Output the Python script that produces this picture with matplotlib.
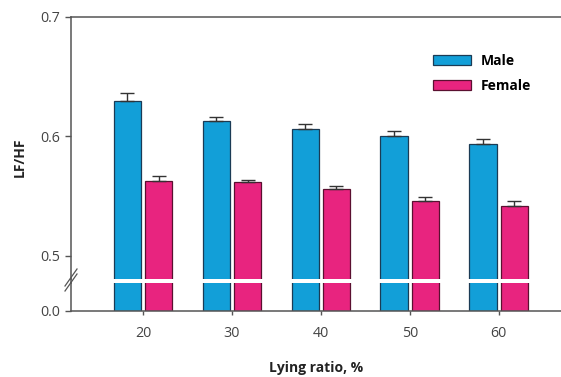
import matplotlib.pyplot as plt
import numpy as np

plt.rcParams['font.family'] = ['Open Sans', 'DejaVu Sans']

# Lying ratio (%) and LF/HF means with upper error
ratio = [20, 30, 40, 50, 60]
male = [0.630, 0.613, 0.606, 0.600, 0.5935]
male_err = [0.0065, 0.0035, 0.004, 0.0042, 0.0044]
female = [0.5628, 0.5615, 0.5561, 0.5461, 0.5416]
female_err = [0.0039, 0.0022, 0.0023, 0.0034, 0.0044]

blue = '#129fd8'
pink = '#e8247f'
grey = '#555555'

fig = plt.figure(figsize=(5.61, 3.77), dpi=100)
ax = fig.add_axes([71/561, 1-279/377, 1-71/561, (279-17)/377])
ax2 = fig.add_axes([71/561, 1-311/377, 1-71/561, (311-283)/377])

x = np.array(ratio)
w = 3.1
off = 1.75
zeros = [0]*len(ratio)

for a in (ax, ax2):
    a.bar(x-off, male, w, color=blue, edgecolor='#1b3b55', linewidth=0.9, label='Male')
    a.bar(x+off, female, w, color=pink, edgecolor='#5a1030', linewidth=0.9, label='Female')
    a.set_xlim(11.9, 67)
    a.spines['right'].set_visible(False)
    for s in a.spines.values():
        s.set_color(grey)
        s.set_linewidth(1.1)
    a.tick_params(colors=grey, labelcolor='#444444', labelsize=10.3, length=4, width=1)

ax.errorbar(x-off, male, yerr=[zeros, male_err], fmt='none', ecolor='#333333',
            elinewidth=1, capsize=5, capthick=1)
ax.errorbar(x+off, female, yerr=[zeros, female_err], fmt='none', ecolor='#333333',
            elinewidth=1, capsize=5, capthick=1)

ax.set_ylim(0.4805, 0.7)
ax.set_yticks([0.5, 0.6, 0.7])
ax.set_yticklabels(['0.5', '0.6', '0.7'])
ax.spines['bottom'].set_visible(False)
ax.tick_params(axis='x', bottom=False, labelbottom=False)
ax.tick_params(axis='y', pad=4)

ax2.set_ylim(0, 0.1)
ax2.set_yticks([0])
ax2.set_yticklabels(['0.0'])
ax2.spines['top'].set_visible(False)
ax2.set_xticks(ratio)
ax2.tick_params(axis='x', pad=8, length=3)
ax2.tick_params(axis='y', pad=4)

# axis break
fig.add_artist(plt.Line2D([71/561, 71/561], [1-283/377, 1-279/377], color=grey, lw=1.1))
for dy in (0, 5):
    fig.add_artist(plt.Line2D([65/561, 77/561], [1-(291-dy)/377, 1-(274-dy)/377],
                              color=grey, lw=0.9))

fig.text(316/561, 1-368/377, 'Lying ratio, %', ha='center', va='center',
         fontsize=10, fontweight='bold', color='#222222')
fig.text(20/561, 1-157/377, 'LF/HF', ha='center', va='center', rotation=90,
         fontsize=10, fontweight='bold', color='#222222')

ax.legend(loc='upper left', bbox_to_anchor=(433/561, 1-54/377), bbox_transform=fig.transFigure,
          frameon=False, prop={'weight': 'bold', 'size': 10},
          handlelength=2.75, handleheight=0.75, labelspacing=0.8, handletextpad=0.7,
          borderpad=0, borderaxespad=0)

fig.savefig('out.png', dpi=100)
